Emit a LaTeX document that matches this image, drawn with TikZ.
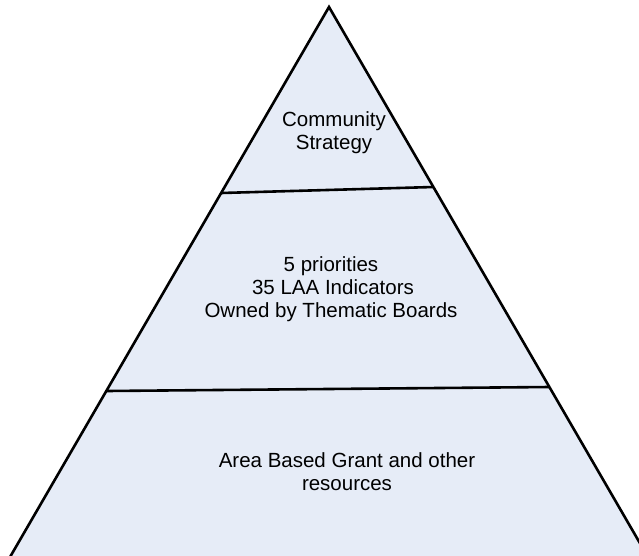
\documentclass[tikz,border=0pt]{standalone}
\usepackage{fontspec}
\setmainfont{Liberation Sans}
\definecolor{pyrfill}{RGB}{230,236,247}
\begin{document}
\begin{tikzpicture}[x=1pt,y=-1pt,
  edge/.style={line width=2.6pt, line join=miter, draw=black},
  lbl/.style={anchor=base, inner sep=0pt, font=\fontsize{20.5}{23}\selectfont}]
\useasboundingbox (0,0) rectangle (639,555);
\clip (0,0) rectangle (639,555);
\coordinate (apex) at (329,7);
\coordinate (bl) at (8.3,560);
\coordinate (br) at (649.7,560);
\coordinate (l1) at (221,193);
\coordinate (r1) at (433.4,187);
\coordinate (l2) at (106.3,391);
\coordinate (r2) at (549.4,387);
\filldraw[fill=pyrfill, edge] (apex) -- (br) -- (bl) -- cycle;
\draw[edge] (l1) -- (r1);
\draw[edge] (l2) -- (r2);
\node[lbl] (t1a) at (334,126) {Community};
\node[lbl] (t1b) at (334,149) {Strategy};
\node[lbl] (t2a) at (331,271) {5 priorities};
\node[lbl] (t2b) at (333,294) {35 LAA Indicators};
\node[lbl] (t2c) at (331,317) {Owned by Thematic Boards};
\node[lbl] (t3a) at (347,467) {Area Based Grant and other};
\node[lbl] (t3b) at (347,490) {resources};
\end{tikzpicture}
\end{document}
